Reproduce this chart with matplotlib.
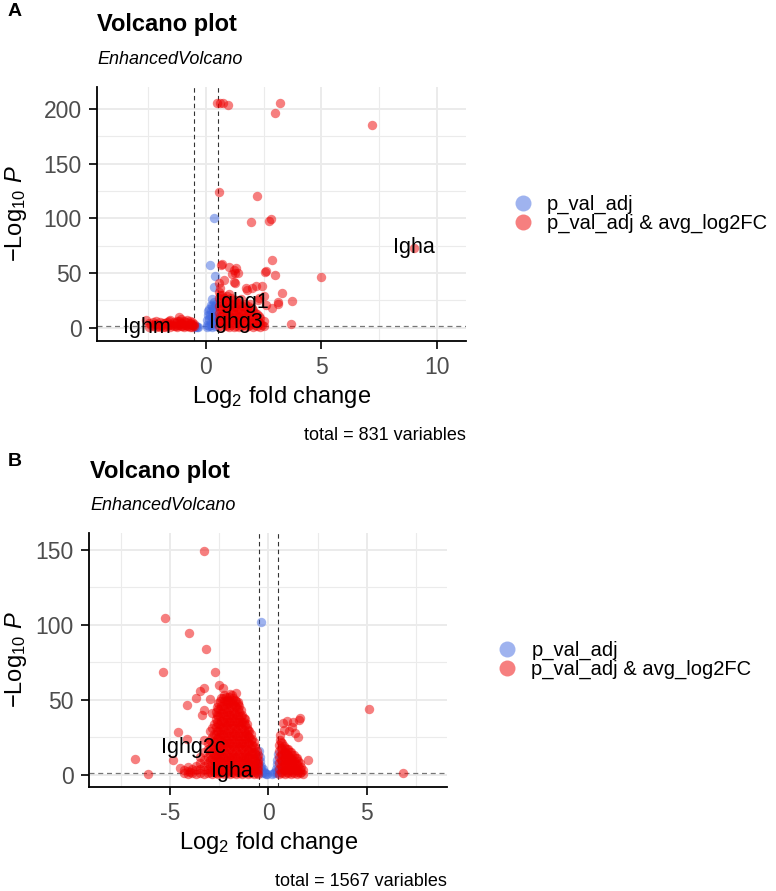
import numpy as np
import matplotlib
matplotlib.use("Agg")
import matplotlib.pyplot as plt
from matplotlib.lines import Line2D

plt.rcParams["font.family"] = ["Liberation Sans", "DejaVu Sans"]
plt.rcParams["mathtext.fontset"] = "custom"
plt.rcParams["mathtext.rm"] = "Liberation Sans"
plt.rcParams["mathtext.it"] = "Liberation Sans:italic"
plt.rcParams["mathtext.bf"] = "Liberation Sans:bold"
plt.rcParams["axes.unicode_minus"] = False

RED = "#EE0000"
BLUE = "#4169E1"
FC_CUT = 0.5
P_CUT = 0.05

# ---------- panel A data (log2FC, -log10 p) ----------
A_RED = [
    (0.48, 205), (0.62, 205), (0.72, 205), (0.96, 204), (3.2, 205), (3.0, 196.5),
    (7.2, 185.6), (0.57, 124), (2.2, 120.6), (1.95, 97), (2.74, 98), (2.82, 99),
    (2.85, 62), (2.56, 51), (3.0, 48), (4.96, 46.6), (9.0, 73), (0.64, 57.6),
    (1.0, 56), (1.2, 53), (1.13, 49), (1.3, 55), (1.38, 50), (0.57, 41), (1.2, 42),
    (1.73, 36.5), (2.0, 36.5), (2.43, 38), (3.3, 32), (3.74, 24.7), (3.13, 22),
    (2.87, 18), (3.7, 3.6), (2.52, 29), (2.26, 25.6), (0.71, 58.5), (1.27, 50),
    (2.6, 51.5), (0.78, 44), (1.26, 41.4), (1.78, 34.7), (2.16, 37.8), (3.1, 24),
    (2.6, 21), (2.3, 27.6),
    (0.55, 2), (0.55, 8), (0.55, 14), (0.55, 20), (0.55, 27), (0.55, 33),
    (0.7, 1), (0.7, 5), (0.7, 11), (0.7, 17), (0.7, 23), (0.7, 30),
    (0.85, 3), (0.85, 9), (0.85, 15), (0.85, 21), (0.85, 26),
    (1.0, 1), (1.0, 6), (1.0, 12), (1.0, 18), (1.0, 24), (1.0, 31),
    (1.15, 4), (1.15, 10), (1.15, 16), (1.15, 22),
    (1.3, 2), (1.3, 7), (1.3, 13), (1.3, 19), (1.3, 25),
    (1.45, 1), (1.45, 5), (1.45, 11), (1.45, 17), (1.45, 23),
    (1.6, 3), (1.6, 9), (1.6, 14), (1.6, 20),
    (1.75, 1), (1.75, 6), (1.75, 12), (1.75, 18),
    (1.9, 3), (1.9, 8), (1.9, 15), (1.9, 22),
    (2.05, 1), (2.05, 5), (2.05, 11), (2.05, 16),
    (2.2, 2), (2.2, 7), (2.2, 13), (2.35, 1), (2.35, 4), (2.35, 9),
    (2.5, 2), (2.5, 6),
    (-2.6, 7.5), (-2.45, 1), (-2.45, 4), (-2.3, 2), (-2.3, 5), (-2.15, 1),
    (-2.15, 3.5), (-2.15, 6), (-2.0, 0.5), (-2.0, 3), (-2.0, 5.5), (-1.85, 1),
    (-1.85, 4), (-1.7, 2), (-1.7, 5.5), (-1.55, 0.8), (-1.55, 3.5), (-1.55, 7),
    (-1.4, 1.5), (-1.4, 5), (-1.25, 0.5), (-1.25, 3), (-1.25, 6), (-1.17, 10),
    (-1.1, 1.5), (-1.1, 4.5), (-1.1, 8), (-0.95, 0.7), (-0.95, 3), (-0.95, 6),
    (-0.82, 7.3), (-0.82, 2), (-0.7, 1), (-0.7, 4), (-0.7, 6), (-0.6, 0.8),
    (-0.6, 2.5), (-0.6, 5), (-0.52, 1.5), (-0.52, 3.5),
]
# extra genes inside the crowded blocks of panel A
A_RED_DENSE = [
    (0.62, 5), (0.62, 11), (0.62, 17), (0.62, 24), (0.62, 30), (0.62, 36),
    (0.78, 4), (0.78, 8), (0.78, 14), (0.78, 20), (0.78, 27),
    (0.92, 2), (0.92, 6), (0.92, 12), (0.92, 18), (0.92, 24), (0.92, 29),
    (1.08, 3), (1.08, 9), (1.08, 15), (1.08, 21), (1.08, 27),
    (1.22, 1), (1.22, 7), (1.22, 13), (1.22, 19), (1.22, 25),
    (1.38, 4), (1.38, 10), (1.38, 16), (1.38, 22),
    (1.52, 2), (1.52, 8), (1.52, 14), (1.52, 20), (1.52, 26),
    (1.68, 4), (1.68, 10), (1.68, 16), (1.68, 22),
    (1.82, 2), (1.82, 9), (1.82, 15), (1.82, 20),
    (1.98, 4), (1.98, 11), (1.98, 18), (2.12, 3), (2.12, 8), (2.12, 14),
    (2.28, 5), (2.28, 11), (2.42, 3),
    (-2.38, 2.5), (-2.22, 3.5), (-2.08, 2), (-1.92, 3), (-1.78, 1), (-1.78, 4.5),
    (-1.62, 2.5), (-1.62, 6), (-1.48, 3), (-1.32, 1.5), (-1.32, 4.5), (-1.18, 2.5),
    (-1.18, 6.5), (-1.02, 1.5), (-1.02, 4.5), (-0.88, 3), (-0.88, 5.5), (-0.76, 2),
    (-0.65, 3.5), (-0.55, 2.5),
]
A_BLUE = [
    (0.35, 100.5), (0.17, 57.6), (0.39, 47.5), (0.35, 37.5), (0.28, 26), (0.35, 24),
    (0.22, 21), (0.4, 20), (0.15, 17), (0.3, 15), (0.42, 13), (0.1, 12), (0.25, 10),
    (0.38, 8), (0.05, 7), (0.2, 5), (0.33, 4), (0.12, 2), (0.4, 1.5), (0.25, 0.8),
    (0.05, 0.5), (-0.45, 2), (-0.4, 0.8), (-0.35, 1.2), (-0.48, 0.5),
    (0.08, 15), (0.18, 12), (0.32, 18), (0.42, 22), (0.3, 6), (0.15, 8), (0.4, 10),
    (0.05, 3), (0.22, 2.5), (0.35, 11), (0.2, 15), (0.28, 20),
]
A_LABELS = ["Igha", "Ighg1", "Ighg3", "Ighm"]
A_LABEL_XY = [(9.0, 73), (1.55, 23), (1.3, 4.6), (-2.55, 0)]
A_TOTAL = 831

# ---------- panel B data ----------
B_RED = [
    (-3.27, 148.7), (-5.3, 104.5), (-4.03, 94.7), (-3.2, 84), (-5.36, 68.7),
    (-2.75, 68.7), (-2.5, 60), (-2.3, 58), (-4.13, 46.7), (-3.67, 51), (-3.47, 56),
    (-3.3, 58), (-2.96, 50.7), (-3.27, 43.3), (-3.37, 40), (-2.9, 41), (-4.6, 28.7),
    (-4.13, 24), (-3.0, 29.3), (-3.27, 23.3), (-6.8, 10.7), (-6.13, 0.7), (5.1, 44),
    (6.84, 1.3), (-4.85, 10), (-4.5, 4.7), (-4.0, 2), (-1.68, 54.7), (-1.53, 48.7),
    (0.76, 34.7), (1.22, 32), (1.53, 36.7), (1.63, 38), (1.27, 35), (1.07, 29.3),
    (1.48, 25.3), (0.61, 26.7), (0.61, 23.3), (2.0, 10), (0.95, 36), (1.35, 28),
    (0.8, 30),
    (-4.3, 1), (-4.3, 3), (-4.1, 0.5), (-4.1, 2.5), (-4.1, 5), (-3.9, 1), (-3.9, 4),
    (-3.7, 0.5), (-3.7, 3), (-3.7, 6), (-3.5, 1), (-3.5, 4), (-3.5, 8), (-3.5, 12),
    (-3.3, 0.5), (-3.3, 3), (-3.3, 6), (-3.3, 10), (-3.3, 15),
    (-3.1, 1), (-3.1, 4), (-3.1, 8), (-3.1, 12), (-3.1, 17), (-3.1, 21),
    (-2.9, 0.5), (-2.9, 3), (-2.9, 7), (-2.9, 11), (-2.9, 15), (-2.9, 20), (-2.9, 25), (-2.9, 31),
    (-2.7, 1), (-2.7, 5), (-2.7, 9), (-2.7, 13), (-2.7, 18), (-2.7, 22), (-2.7, 27),
    (-2.7, 32), (-2.7, 37), (-2.7, 42),
    (-2.55, 0.5), (-2.55, 3), (-2.55, 7), (-2.55, 11), (-2.55, 16), (-2.55, 20),
    (-2.55, 25), (-2.55, 29), (-2.55, 34), (-2.55, 39), (-2.55, 44), (-2.55, 48),
    (-2.4, 1), (-2.4, 5), (-2.4, 9), (-2.4, 14), (-2.4, 18), (-2.4, 23), (-2.4, 27),
    (-2.4, 32), (-2.4, 36), (-2.4, 41), (-2.4, 46), (-2.4, 51),
    (-2.25, 0.5), (-2.25, 3), (-2.25, 7), (-2.25, 12), (-2.25, 16), (-2.25, 21),
    (-2.25, 25), (-2.25, 30), (-2.25, 35), (-2.25, 39), (-2.25, 44), (-2.25, 49), (-2.25, 53),
    (-2.1, 1), (-2.1, 5), (-2.1, 10), (-2.1, 14), (-2.1, 19), (-2.1, 23), (-2.1, 28),
    (-2.1, 33), (-2.1, 37), (-2.1, 42), (-2.1, 47), (-2.1, 50),
    (-1.95, 0.5), (-1.95, 3), (-1.95, 8), (-1.95, 12), (-1.95, 17), (-1.95, 21),
    (-1.95, 26), (-1.95, 31), (-1.95, 35), (-1.95, 40), (-1.95, 45), (-1.95, 49), (-1.95, 54),
    (-1.8, 1), (-1.8, 5), (-1.8, 10), (-1.8, 14), (-1.8, 19), (-1.8, 24), (-1.8, 28),
    (-1.8, 33), (-1.8, 38), (-1.8, 42), (-1.8, 47), (-1.8, 51),
    (-1.65, 0.5), (-1.65, 3), (-1.65, 7), (-1.65, 12), (-1.65, 16), (-1.65, 21),
    (-1.65, 26), (-1.65, 30), (-1.65, 35), (-1.65, 40), (-1.65, 45), (-1.65, 49),
    (-1.5, 1), (-1.5, 5), (-1.5, 9), (-1.5, 14), (-1.5, 19), (-1.5, 23), (-1.5, 28),
    (-1.5, 33), (-1.5, 37), (-1.5, 42), (-1.5, 46),
    (-1.35, 0.5), (-1.35, 3), (-1.35, 8), (-1.35, 12), (-1.35, 17), (-1.35, 21),
    (-1.35, 26), (-1.35, 31), (-1.35, 35), (-1.35, 40),
    (-1.2, 1), (-1.2, 5), (-1.2, 10), (-1.2, 14), (-1.2, 19), (-1.2, 24), (-1.2, 28),
    (-1.2, 33), (-1.2, 37),
    (-1.05, 0.5), (-1.05, 3), (-1.05, 7), (-1.05, 12), (-1.05, 16), (-1.05, 21),
    (-1.05, 26), (-1.05, 30),
    (-0.9, 1), (-0.9, 5), (-0.9, 9), (-0.9, 14), (-0.9, 18), (-0.9, 23), (-0.9, 27),
    (-0.75, 0.5), (-0.75, 3), (-0.75, 7), (-0.75, 11), (-0.75, 15), (-0.75, 19), (-0.75, 22),
    (-0.6, 1), (-0.6, 4), (-0.6, 8), (-0.6, 12), (-0.6, 16),
    (-0.52, 0.5), (-0.52, 3), (-0.52, 6), (-0.52, 10),
    (0.55, 0.5), (0.55, 4), (0.55, 8), (0.55, 12), (0.55, 16), (0.55, 20),
    (0.7, 1), (0.7, 5), (0.7, 9), (0.7, 13), (0.7, 17), (0.7, 21),
    (0.85, 0.5), (0.85, 3), (0.85, 7), (0.85, 11), (0.85, 15), (0.85, 18),
    (1.0, 1), (1.0, 5), (1.0, 9), (1.0, 13), (1.0, 17),
    (1.15, 0.5), (1.15, 3), (1.15, 7), (1.15, 11), (1.15, 15),
    (1.3, 1), (1.3, 5), (1.3, 9), (1.3, 13),
    (1.45, 0.5), (1.45, 3), (1.45, 7), (1.45, 11),
    (1.6, 1), (1.6, 4), (1.6, 8), (1.75, 0.5), (1.75, 3),
]
# extra genes inside the crowded blocks of panel B
B_RED_DENSE = [
    (-3.0, 2), (-3.0, 6), (-3.0, 10), (-3.0, 14), (-3.0, 18), (-3.0, 23),
    (-2.8, 2), (-2.8, 5), (-2.8, 9), (-2.8, 13), (-2.8, 17), (-2.8, 22), (-2.8, 27), (-2.8, 34),
    (-2.62, 3), (-2.62, 7), (-2.62, 11), (-2.62, 15), (-2.62, 20), (-2.62, 24),
    (-2.62, 29), (-2.62, 35), (-2.62, 40), (-2.62, 45),
    (-2.47, 2), (-2.47, 7), (-2.47, 11), (-2.47, 16), (-2.47, 20), (-2.47, 25),
    (-2.47, 30), (-2.47, 34), (-2.47, 39), (-2.47, 44), (-2.47, 49),
    (-2.32, 3), (-2.32, 8), (-2.32, 12), (-2.32, 17), (-2.32, 22), (-2.32, 27),
    (-2.32, 31), (-2.32, 36), (-2.32, 41), (-2.32, 46), (-2.32, 51),
    (-2.17, 2), (-2.17, 7), (-2.17, 12), (-2.17, 17), (-2.17, 21), (-2.17, 26),
    (-2.17, 31), (-2.17, 35), (-2.17, 40), (-2.17, 45), (-2.17, 49), (-2.17, 52),
    (-2.02, 3), (-2.02, 8), (-2.02, 12), (-2.02, 17), (-2.02, 21), (-2.02, 26),
    (-2.02, 30), (-2.02, 35), (-2.02, 40), (-2.02, 44), (-2.02, 48), (-2.02, 52),
    (-1.87, 2), (-1.87, 7), (-1.87, 12), (-1.87, 16), (-1.87, 21), (-1.87, 26),
    (-1.87, 31), (-1.87, 36), (-1.87, 40), (-1.87, 45), (-1.87, 50), (-1.87, 53),
    (-1.72, 3), (-1.72, 8), (-1.72, 12), (-1.72, 17), (-1.72, 22), (-1.72, 27),
    (-1.72, 31), (-1.72, 36), (-1.72, 41), (-1.72, 46), (-1.72, 50),
    (-1.57, 2), (-1.57, 7), (-1.57, 12), (-1.57, 17), (-1.57, 21), (-1.57, 26),
    (-1.57, 31), (-1.57, 35), (-1.57, 40), (-1.57, 44), (-1.57, 47),
    (-1.42, 3), (-1.42, 8), (-1.42, 12), (-1.42, 17), (-1.42, 21), (-1.42, 26),
    (-1.42, 31), (-1.42, 35), (-1.42, 39), (-1.42, 43),
    (-1.27, 2), (-1.27, 7), (-1.27, 12), (-1.27, 16), (-1.27, 21), (-1.27, 26),
    (-1.27, 30), (-1.27, 35), (-1.27, 38),
    (-1.12, 3), (-1.12, 8), (-1.12, 12), (-1.12, 17), (-1.12, 22), (-1.12, 27),
    (-1.12, 31), (-1.12, 34),
    (-0.97, 2), (-0.97, 7), (-0.97, 11), (-0.97, 16), (-0.97, 21), (-0.97, 25), (-0.97, 29),
    (-0.82, 3), (-0.82, 7), (-0.82, 11), (-0.82, 15), (-0.82, 20), (-0.82, 24),
    (-0.67, 2), (-0.67, 6), (-0.67, 10), (-0.67, 14), (-0.67, 18), (-0.56, 8), (-0.56, 13),
    (0.62, 2), (0.62, 6), (0.62, 10), (0.62, 14), (0.62, 18), (0.62, 22),
    (0.78, 3), (0.78, 7), (0.78, 11), (0.78, 15), (0.78, 19),
    (0.92, 2), (0.92, 6), (0.92, 10), (0.92, 14), (0.92, 17),
    (1.08, 3), (1.08, 7), (1.08, 11), (1.08, 15),
    (1.22, 2), (1.22, 6), (1.22, 10), (1.22, 13),
    (1.38, 3), (1.38, 7), (1.38, 11), (1.52, 2), (1.52, 6), (1.52, 9),
    (1.68, 2), (1.68, 5),
]
B_BLUE = [
    (-0.36, 102), (-0.48, 16), (-0.45, 12), (-0.42, 9), (-0.4, 6), (-0.38, 3),
    (-0.35, 1), (-0.3, 4), (-0.25, 2), (-0.2, 1), (-0.45, 5), (-0.47, 2),
    (-0.15, 0.8), (-0.1, 0.5), (0.48, 14), (0.45, 10), (0.42, 7), (0.4, 4),
    (0.35, 2), (0.3, 1), (0.2, 0.7), (0.47, 3), (0.44, 1),
]
B_LABELS = ["Ighg2c", "Igha"]
B_LABEL_XY = [(-3.85, 18), (-1.85, 2)]
B_TOTAL = 1567

LEGEND_LABELS = ["p_val_adj", "p_val_adj & avg_log2FC"]

W, H = 776, 891
fig = plt.figure(figsize=(W / 100, H / 100), dpi=100)


def box(l, t, r, b):
    return [l / W, 1 - b / H, (r - l) / W, (b - t) / H]


def panel(rect, red, blue, labels, label_xy, xlim, ylim, xmaj, xmin, ymaj, ymin, leg_x):
    ax = fig.add_axes(rect)
    ax.set_xlim(*xlim)
    ax.set_ylim(*ylim)
    ax.set_xticks(xmaj)
    ax.set_xticks(xmin, minor=True)
    ax.set_yticks(ymaj)
    ax.set_yticks(ymin, minor=True)
    ax.grid(True, which="major", color="#EBEBEB", lw=1.4)
    ax.grid(True, which="minor", color="#EBEBEB", lw=0.8)
    ax.set_axisbelow(True)
    for s in ["top", "right"]:
        ax.spines[s].set_visible(False)
    for s in ["left", "bottom"]:
        ax.spines[s].set_linewidth(1.3)
    ax.tick_params(which="major", length=6, width=1.2, labelsize=16.5,
                   labelcolor="#4D4D4D", pad=5)
    ax.tick_params(which="minor", length=0)

    bx, by = np.array(blue).T
    rx, ry = np.array(red).T
    ax.scatter(bx, by, s=46, c=BLUE, alpha=0.5, lw=0, zorder=3)
    ax.scatter(rx, ry, s=46, c=RED, alpha=0.5, lw=0, zorder=3)

    for v in (-FC_CUT, FC_CUT):
        ax.axvline(v, color="#333333", ls=(0, (4, 3)), lw=0.8, zorder=2)
    ax.axhline(-np.log10(P_CUT), color="#777777", ls=(0, (4, 3)), lw=0.9, zorder=2)

    for lab, (x, y) in zip(labels, label_xy):
        ax.text(x, y, lab, fontsize=15.5, ha="center", va="center", zorder=4)

    handles = [Line2D([], [], ls="", marker="o", ms=11.5, mew=0, color=c, alpha=0.5)
               for c in (BLUE, RED)]
    ax.legend(handles, LEGEND_LABELS, loc="center left", bbox_to_anchor=(1 + leg_x, 0.5),
              frameon=False, fontsize=14.5, handlelength=1.0, handletextpad=0.7,
              labelspacing=0.0, borderpad=0, borderaxespad=0)
    return ax


# panel A
panel(box(97, 87, 466, 341), A_RED + A_RED_DENSE, A_BLUE, A_LABELS, A_LABEL_XY,
      (-4.72, 11.26), (-12, 220), [0, 5, 10], [-2.5, 2.5, 7.5],
      [0, 50, 100, 150, 200], [25, 75, 125, 175], 0.127)
# panel B
panel(box(89, 533, 447, 787), B_RED + B_RED_DENSE, B_BLUE, B_LABELS, B_LABEL_XY,
      (-9.15, 9.1), (-8, 161), [-5, 0, 5], [-7.5, -2.5, 2.5, 7.5],
      [0, 50, 100, 150], [25, 75, 125], 0.14)

ylab = r"$-\mathrm{Log}_{10}\ \mathit{P}$"
xlab = r"$\mathrm{Log}_{2}$ fold change"
for tag, tx, ty, left, top, right, bottom, total in [
        ("A", 8, 12, 97, 87, 466, 341, A_TOTAL),
        ("B", 8, 462, 90, 533, 447, 787, B_TOTAL)]:
    fig.text(tx / W, 1 - ty / H, tag, fontsize=14, fontweight="bold", ha="left", va="center")
    fig.text(left / W, 1 - (top - 62) / H, "Volcano plot", fontsize=17, fontweight="bold",
             ha="left", va="center")
    fig.text(left / W, 1 - (top - 27) / H, "EnhancedVolcano", fontsize=13, style="italic",
             ha="left", va="center")
    fig.text(16 / W, 1 - (top + bottom) / 2 / H, ylab, fontsize=17, rotation=90,
             ha="center", va="center")
    fig.text((left + right) / 2 / W, 1 - (bottom + 56) / H, xlab, fontsize=17,
             ha="center", va="center")
    fig.text(right / W, 1 - (bottom + 95) / H, f"total = {total} variables", fontsize=13,
             ha="right", va="center")

fig.savefig("out.png", dpi=100)
